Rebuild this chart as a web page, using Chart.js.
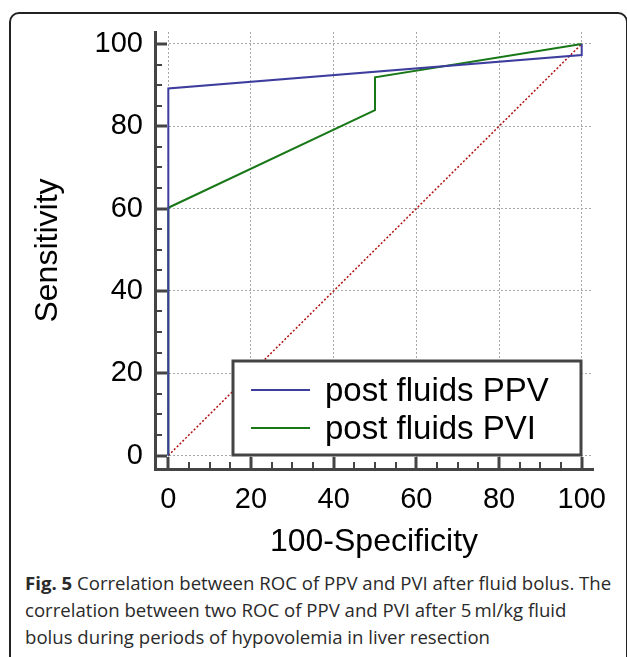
<!DOCTYPE html>
<html><head><meta charset="utf-8">
<script src="https://cdn.jsdelivr.net/npm/chart.js@4.4.1/dist/chart.umd.min.js"></script>
<style>
html,body{margin:0;padding:0;background:#fff;width:627px;height:657px;overflow:hidden;}
#frame{position:absolute;left:9px;top:12px;width:619px;height:700px;box-sizing:border-box;border:2px solid #222;border-radius:10px;}
#c{position:absolute;left:0;top:0;}
#cap{position:absolute;left:25px;top:569px;font-family:"Open Sans";font-size:18.6px;line-height:27px;color:#2a2a2a;white-space:nowrap;}
</style></head><body>
<div id="frame"></div>
<canvas id="c" width="627" height="565"></canvas>
<div id="cap"><b>Fig. 5</b> Correlation between ROC of PPV and PVI after fluid bolus. The<br>correlation between two ROC of PPV and PVI after 5&#8201;ml/kg fluid<br>bolus during periods of hypovolemia in liver resection</div>
<script>
const xTicks = [0, 20, 40, 60, 80, 100];
const yTicks = [0, 20, 40, 60, 80, 100];
const minorTicks = [0,5,10,15,20,25,30,35,40,45,50,55,60,65,70,75,80,85,90,95,100];
const ppvX = [0, 0, 100, 100];
const ppvY = [0, 89.2, 97.3, 100];
const pviX = [0, 0, 50, 50, 100];
const pviY = [0, 60.2, 83.9, 91.9, 100];
const refX = [0, 100];
const refY = [0, 100];
const seriesLabels = ['post fluids PPV', 'post fluids PVI', 'reference'];
const seriesColors = ['#3d3d9e', '#187818', '#b01010'];
const xTitle = '100-Specificity';
const yTitle = 'Sensitivity';

const pts = (xs, ys) => xs.map((v, i) => ({x: v, y: ys[i]}));
const FONT = '"Liberation Sans", Arial, sans-serif';

const tickPlugin = {
  id: 'axisTicks',
  afterDraw(chart) {
    const {ctx, scales: {x, y}, chartArea: a} = chart;
    ctx.save();
    ctx.strokeStyle = '#444';
    minorTicks.forEach(v => {
      const major = xTicks.includes(v);
      ctx.lineWidth = major ? 3 : 2;
      const len = major ? 12 : 7;
      const py = Math.round(y.getPixelForValue(v));
      ctx.beginPath(); ctx.moveTo(a.left, py); ctx.lineTo(a.left + len, py); ctx.stroke();
      const px = Math.round(x.getPixelForValue(v));
      ctx.beginPath(); ctx.moveTo(px, a.bottom); ctx.lineTo(px, a.bottom - len); ctx.stroke();
    });
    ctx.restore();
  }
};

const legendPlugin = {
  id: 'boxLegend',
  afterDatasetsDraw(chart) {
    const {ctx, chartArea: a} = chart;
    const bx = a.left + 78, by = a.top + 329, bw = 348, bh = 94;
    ctx.save();
    ctx.fillStyle = '#fff';
    ctx.fillRect(bx, by, bw, bh);
    ctx.strokeStyle = '#444';
    ctx.lineWidth = 3;
    ctx.strokeRect(bx, by, bw, bh);
    ctx.font = '33px ' + FONT;
    ctx.textBaseline = 'middle';
    ctx.textAlign = 'left';
    chart.data.datasets.slice(0, 2).forEach((ds, i) => {
      const cy = by + 29 + i * 38;
      ctx.strokeStyle = ds.borderColor;
      ctx.lineWidth = 2;
      ctx.beginPath(); ctx.moveTo(bx + 18, cy); ctx.lineTo(bx + 77, cy); ctx.stroke();
      ctx.fillStyle = '#000';
      ctx.fillText(ds.label, bx + 92, cy + 2);
    });
    ctx.restore();
  }
};

new Chart(document.getElementById('c'), {
  type: 'line',
  data: {
    datasets: [
      {label: seriesLabels[0], data: pts(ppvX, ppvY), borderColor: seriesColors[0], borderWidth: 2, pointRadius: 0, tension: 0, fill: false},
      {label: seriesLabels[1], data: pts(pviX, pviY), borderColor: seriesColors[1], borderWidth: 2, pointRadius: 0, tension: 0, fill: false},
      {label: seriesLabels[2], data: pts(refX, refY), borderColor: seriesColors[2], borderWidth: 1.5, borderDash: [2, 2], pointRadius: 0, tension: 0, fill: false, order: 5}
    ]
  },
  options: {
    responsive: false,
    animation: false,
    devicePixelRatio: 1,
    layout: {padding: {left: 0, top: 32, right: 34, bottom: 0}},
    plugins: {legend: {display: false}, tooltip: {enabled: false}},
    scales: {
      x: {
        type: 'linear', min: -3.22, max: 102.73,
        afterBuildTicks: s => { s.ticks = xTicks.map(v => ({value: v})); },
        afterFit: s => { s.height = 96; },
        grid: {color: '#a8a8a8', lineWidth: 1, drawTicks: false},
        border: {display: true, color: '#444', width: 3, dash: [2, 2]},
        ticks: {font: {family: FONT, size: 29}, color: '#000', padding: 14, maxRotation: 0, autoSkip: false},
        title: {display: true, text: xTitle, font: {family: FONT, size: 32}, color: '#000', padding: {bottom: 4}}
      },
      y: {
        type: 'linear', min: -3.28, max: 102.9,
        afterBuildTicks: s => { s.ticks = yTicks.map(v => ({value: v})); },
        afterFit: s => { s.width = 155; },
        grid: {color: '#a8a8a8', lineWidth: 1, drawTicks: false},
        border: {display: true, color: '#444', width: 3, dash: [2, 2]},
        ticks: {font: {family: FONT, size: 29}, color: '#000', padding: 12, autoSkip: false},
        title: {display: true, text: yTitle, font: {family: FONT, size: 32}, color: '#000', padding: {top: 29}}
      }
    }
  },
  plugins: [legendPlugin, tickPlugin]
});
</script>
</body></html>
